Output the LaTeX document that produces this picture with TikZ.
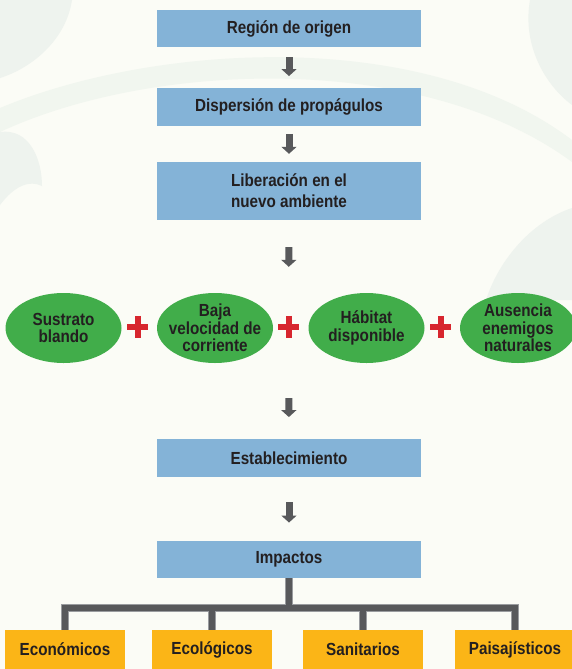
\documentclass[tikz,border=0pt]{standalone}
\usepackage{fontspec}
\setmainfont{Liberation Sans}[FakeStretch=0.87]
\usetikzlibrary{arrows.meta,shapes.geometric}
\definecolor{bgc}{HTML}{FBFCF6}
\definecolor{leafc}{HTML}{EEF3EE}
\definecolor{leafd}{HTML}{F1F6EF}
\definecolor{bluebox}{HTML}{84B3D7}
\definecolor{greenell}{HTML}{41AD4A}
\definecolor{orangebox}{HTML}{FBB517}
\definecolor{darkgray}{HTML}{58595B}
\definecolor{edgegray}{HTML}{9A9C9F}
\definecolor{plusred}{HTML}{D7262E}
\definecolor{txt}{HTML}{231F20}
\begin{document}
\begin{tikzpicture}[x=1pt,y=-1pt,
  font=\fontsize{17.5}{21}\selectfont\bfseries,
  bluebox/.style={rectangle, fill=bluebox, minimum width=264, minimum height=37.5, inner sep=0, align=center, text=txt},
  orbox/.style={rectangle, fill=orangebox, minimum width=120, minimum height=39, inner sep=0, align=center, text=txt},
  ellbox/.style={ellipse, fill=greenell, minimum width=116, minimum height=70, inner sep=0},
  elltext/.style={inner sep=0, align=center, text=txt, font=\fontsize{17.5}{17.5}\selectfont\bfseries},
  plusbox/.style={rectangle, minimum width=20, minimum height=22, inner sep=0},
  plusline/.style={draw=plusred, line width=6},
  flowarrow/.style={draw=darkgray, line width=7, -{Triangle[width=15pt,length=7pt]}},
  treeedge/.style={draw=edgegray, line width=8.5},
  treecore/.style={draw=darkgray, line width=6.5}
]
\useasboundingbox (0,0) rectangle (572,669);
\fill[bgc] (0,0) rectangle (572,669);
% faint background leaves
\fill[leafc] (0,0) -- (72,0) .. controls (66,40) and (32,68) .. (0,78) -- cycle;
\fill[leafd] (0,108) .. controls (150,45) and (420,25) .. (572,140) -- (572,162) .. controls (420,50) and (150,62) .. (0,132) -- cycle;
\fill[leafc] (0,132) .. controls (30,128) and (42,160) .. (42,186) .. controls (30,180) and (15,185) .. (0,205) -- cycle;
\fill[leafc] (530,0) -- (572,0) -- (572,105) .. controls (545,85) and (522,45) .. (530,0) -- cycle;
\fill[leafc] (572,208) .. controls (530,222) and (498,262) .. (486,300) -- (572,300) -- cycle;

% main boxes
\node[bluebox] (b1) at (289,28.5) {Región de origen};
\node[bluebox] (b2) at (289,107) {Dispersión de propágulos};
\node[bluebox, minimum height=58] (b3) at (289,191) {Liberación en el\\nuevo ambiente};
\node[bluebox] (est) at (289,458) {Establecimiento};
\node[bluebox] (imp) at (289,559.5) {Impactos};

% ellipses
\node[ellbox] (e1) at (63.5,328) {};
\node[ellbox] (e2) at (215,328) {};
\node[ellbox] (e3) at (366.5,328) {};
\node[ellbox] (e4) at (518,328) {};
\node[elltext] (e1t) at (e1) {Sustrato\\blando};
\node[elltext] (e2t) at (e2) {Baja\\velocidad de\\corriente};
\node[elltext] (e3t) at (e3) {Hábitat\\disponible};
\node[elltext] (e4t) at (e4) {Ausencia\\enemigos\\naturales};

% plus signs
\node[plusbox] (p1) at (137.5,327) {};
\node[plusbox] (p2) at (288.5,327) {};
\node[plusbox] (p3) at (440.5,327) {};
\foreach \p in {p1,p2,p3}{
  \draw[plusline] (\p.north) -- (\p.south) (\p.west) -- (\p.east);
}

% impact boxes
\node[orbox] (eco) at (65,649.5) {Económicos};
\node[orbox] (ecol) at (212,649.5) {Ecológicos};
\node[orbox] (san) at (363,649.5) {Sanitarios};
\node[orbox] (pai) at (515,649.5) {Paisajísticos};

% arrows
\draw[flowarrow, shorten <=10pt, shorten >=12pt] (b1.south) -- (b2.north);
\draw[flowarrow, shorten <=8pt, shorten >=8pt] (b2.south) -- (b3.north);
\draw[flowarrow, shorten <=27pt, shorten >=49pt] (b3.south) -- (p2.north);
\draw[flowarrow, shorten <=60pt, shorten >=22pt] (p2.south) -- (est.north);
\draw[flowarrow, shorten <=25.5pt, shorten >=18pt] (est.south) -- (imp.north);

% tree
\coordinate (bar) at (289,608);
\draw[treeedge] (eco.north) |- (bar) -| (pai.north);
\draw[treeedge] (imp.south) -- (bar);
\draw[treeedge] (ecol.north) -- (ecol.north |- bar);
\draw[treeedge] (san.north) -- (san.north |- bar);
\draw[treecore] (eco.north) |- (bar) -| (pai.north);
\draw[treecore] (imp.south) -- (bar);
\draw[treecore] (ecol.north) -- (ecol.north |- bar);
\draw[treecore] (san.north) -- (san.north |- bar);
\end{tikzpicture}
\end{document}
